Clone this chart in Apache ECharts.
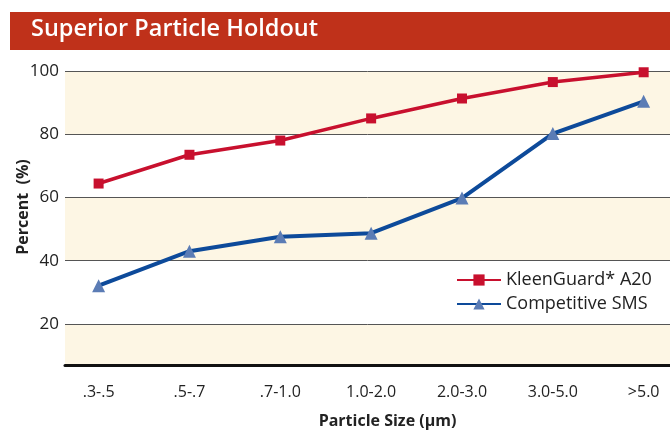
<!DOCTYPE html>
<html>
<head>
<meta charset="utf-8">
<script src="https://cdn.jsdelivr.net/npm/echarts@6/dist/echarts.min.js"></script>
<style>
  html, body { margin: 0; padding: 0; background: #fff; }
  #chart { width: 670px; height: 430px; }
</style>
</head>
<body>
<div id="chart"></div>
<script>
// particle size bins
var categories = ['.3-.5', '.5-.7', '.7-1.0', '1.0-2.0', '2.0-3.0', '3.0-5.0', '>5.0'];
// percent holdout
var kleenGuard = [64.4, 73.5, 78, 85, 91.3, 96.5, 99.6];
var competitive = [32.1, 43, 47.6, 48.7, 59.8, 80.2, 90.4];

var font = '"Open Sans", "Noto Sans", sans-serif';

function pairs(arr) {
  return arr.map(function (v, i) { return [i, v]; });
}

var myChart = echarts.init(document.getElementById('chart'));

var option = {
  backgroundColor: '#fff',
  animation: false,
  graphic: [
    {
      type: 'rect',
      left: 10, top: 12,
      shape: { width: 660, height: 38 },
      style: { fill: '#bf311a' }
    },
    {
      type: 'text',
      left: 31, top: 17,
      style: { text: 'Superior Particle Holdout', fill: '#fff', font: '600 23.5px ' + font }
    }
  ],
  grid: { left: 65, right: 0, top: 71, bottom: 65, outerBoundsMode: 'none', containLabel: false },
  legend: {
    left: 451, top: 266,
    orient: 'vertical',
    itemWidth: 44, itemHeight: 14, itemGap: 6,
    textStyle: { fontFamily: font, fontSize: 18, color: '#222' },
    data: ['KleenGuard* A20', 'Competitive SMS']
  },
  xAxis: {
    type: 'value',
    min: -0.37, max: 6.29,
    minInterval: 1, maxInterval: 1,
    name: 'Particle Size (µm)',
    nameLocation: 'middle',
    nameGap: 48,
    nameTextStyle: { fontFamily: font, fontSize: 16, fontWeight: 'bold', color: '#222', padding: [0, 0, 0, 40] },
    axisLine: { show: true, onZero: false, lineStyle: { color: '#111', width: 3 } },
    axisTick: { show: false },
    splitLine: { show: false },
    axisLabel: {
      showMinLabel: false, showMaxLabel: false,
      margin: 19,
      fontFamily: font, fontSize: 16, color: '#222',
      formatter: function (v) {
        var i = Math.round(v);
        return Math.abs(v - i) < 1e-6 && categories[i] ? categories[i] : '';
      }
    }
  },
  yAxis: {
    type: 'value',
    min: 7, max: 100,
    name: 'Percent  (%)',
    nameLocation: 'middle',
    nameGap: 34,
    nameMoveOverlap: false,
    nameTextStyle: { fontFamily: font, fontSize: 16, fontWeight: 'bold', color: '#222', padding: [0, 0, 0, 22] },
    axisLine: { show: false },
    axisTick: { show: false },
    axisLabel: { showMinLabel: false, margin: 6, fontFamily: font, fontSize: 17, color: '#222' },
    splitLine: { show: true, lineStyle: { color: '#555', width: 1 } },
    splitArea: { show: true, areaStyle: { color: ['#fdf6e4', '#ffffff'] } }
  },
  series: [
    {
      name: 'KleenGuard* A20',
      type: 'line',
      data: pairs(kleenGuard),
      symbol: 'rect',
      symbolSize: 10,
      lineStyle: { color: '#c8102e', width: 3.5 },
      itemStyle: { color: '#c8102e' },
      z: 3
    },
    {
      name: 'Competitive SMS',
      type: 'line',
      data: pairs(competitive),
      symbol: 'triangle',
      symbolSize: 13,
      lineStyle: { color: '#0d4a9a', width: 4 },
      itemStyle: { color: '#5b7cb5' },
      z: 4
    }
  ]
};

myChart.setOption(option);
</script>
</body>
</html>
